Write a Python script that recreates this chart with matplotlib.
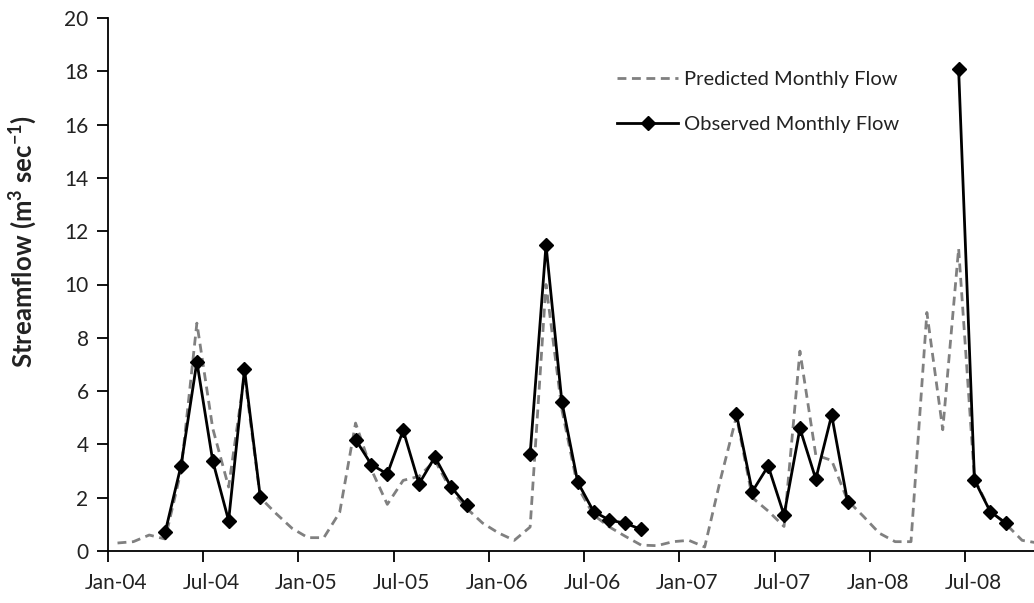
import numpy as np
import matplotlib
matplotlib.use("Agg")
import matplotlib.pyplot as plt
import matplotlib.transforms as mtransforms

# Monthly series, Jan-2004 .. Nov-2008 (index 0 = Jan-04)
months = ["Jan", "Feb", "Mar", "Apr", "May", "Jun",
          "Jul", "Aug", "Sep", "Oct", "Nov", "Dec"]
years = [2004, 2005, 2006, 2007, 2008]

predicted = [
    # 2004
    0.30, 0.35, 0.60, 0.45, 3.00, 8.55, 4.60, 2.40, 6.60, 2.00, 1.40, 0.85,
    # 2005
    0.50, 0.50, 1.45, 4.80, 3.05, 1.75, 2.65, 2.80, 3.40, 2.30, 1.60, 1.05,
    # 2006
    0.68, 0.40, 0.90, 10.00, 5.30, 2.40, 1.35, 0.90, 0.55, 0.22, 0.20, 0.35,
    # 2007
    0.40, 0.15, 2.70, 5.05, 2.00, 1.50, 0.92, 7.50, 3.60, 3.40, 1.90, 1.30,
    # 2008
    0.67, 0.35, 0.35, 8.95, 4.55, 11.35, 2.70, 1.50, 1.00, 0.40, 0.30,
]

nan = np.nan
observed = [
    # 2004
    nan, nan, nan, 0.70, 3.20, 7.10, 3.38, 1.14, 6.82, 2.01, nan, nan,
    # 2005
    nan, nan, nan, 4.18, 3.24, 2.89, 4.53, 2.52, 3.53, 2.42, 1.71, nan,
    # 2006
    nan, nan, 3.63, 11.48, 5.60, 2.58, 1.48, 1.16, 1.04, 0.81, nan, nan,
    # 2007
    nan, nan, nan, 5.14, 2.23, 3.19, 1.35, 4.60, 2.70, 5.10, 1.85, nan,
    # 2008
    nan, nan, nan, nan, nan, 18.08, 2.66, 1.47, 1.04, nan, nan,
]

tick_months = list(range(0, 60, 6))
tick_labels = [f"{months[m % 12]}-{str(years[m // 12])[2:]}" for m in tick_months]

# where within a month each monthly value is plotted
POINT_OFFSET = 0.6

plt.rcParams["font.family"] = ["Lato", "DejaVu Sans"]
plt.rcParams["mathtext.fontset"] = "custom"
plt.rcParams["mathtext.rm"] = "Lato"
plt.rcParams["mathtext.bf"] = "Lato:bold"

fig = plt.figure(figsize=(10.34, 6.03), dpi=100)
ax = fig.add_axes([108 / 1034, 1 - 551 / 603, 1 - 108 / 1034, 533 / 603])

x = np.arange(len(predicted)) + POINT_OFFSET
ax.plot(x, predicted, color="#808080", lw=2.0, ls=(0, (3.2, 2.0)),
        label="Predicted Monthly Flow", zorder=2)
ax.plot(x, np.array(observed, dtype=float), color="black", lw=2.0,
        marker="D", markersize=7.5, label="Observed Monthly Flow", zorder=3)

ax.set_xlim(0, 58.35)
ax.set_ylim(0, 20)
ax.set_yticks(np.arange(0, 21, 2))
ax.set_xticks(tick_months)
ax.set_xticklabels(tick_labels)

for side in ("top", "right"):
    ax.spines[side].set_visible(False)
for side in ("left", "bottom"):
    ax.spines[side].set_linewidth(1.3)
    ax.spines[side].set_color("black")

ax.tick_params(axis="both", direction="out", length=8, width=1.3,
               labelsize=15, colors="black", labelcolor="#222222")
ax.tick_params(axis="y", pad=6)
ax.tick_params(axis="x", pad=8)

# shift date labels slightly to the right of their tick marks
shift = mtransforms.ScaledTranslation(8 / 100, 0, fig.dpi_scale_trans)
for lbl in ax.get_xticklabels():
    lbl.set_transform(lbl.get_transform() + shift)

ax.set_ylabel(r"Streamflow (m$^{\mathbf{3}}$ sec$^{\mathbf{-1}}$)",
              fontsize=18.5, fontweight="bold", color="#222222")
ax.yaxis.set_label_coords(-0.074, 0.58)

leg = ax.legend(loc="upper left", bbox_to_anchor=(0.55, 0.90),
                frameon=False, fontsize=14.5, handlelength=3.0,
                handletextpad=0.3, labelspacing=1.37, borderpad=0,
                borderaxespad=0)
for t in leg.get_texts():
    t.set_color("#222222")

fig.savefig("out.png", dpi=100)
